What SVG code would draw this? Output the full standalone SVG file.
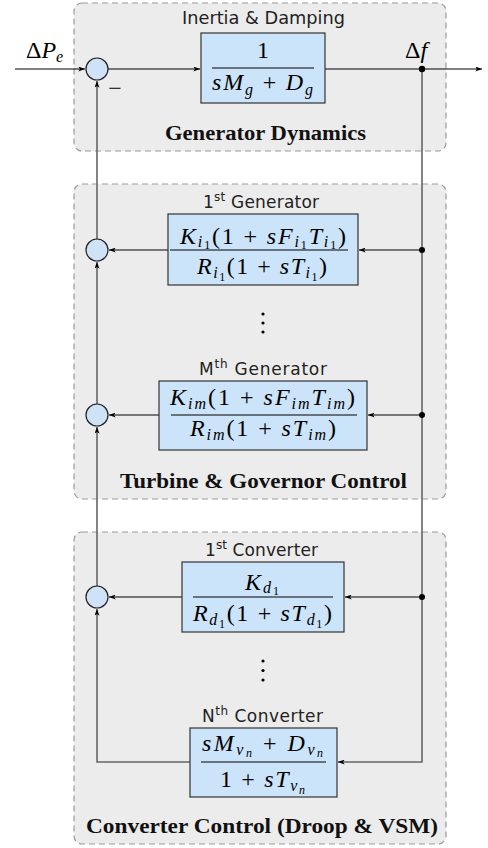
<svg xmlns="http://www.w3.org/2000/svg" width="488" height="848" viewBox="0 0 488 848">
<style>
.cont{fill:#ececec;stroke:#9a9a9a;stroke-width:1.2;stroke-dasharray:6,4}
.blk{fill:#cce4f9;stroke:#333;stroke-width:1.2}
.sum{fill:#cfe3f8;stroke:#222;stroke-width:1.2}
.frac{stroke:#000;stroke-width:1}
.w{stroke:#000;stroke-width:1;fill:none}
.g{stroke:#666;stroke-width:1.6;fill:none}
.lab{font-family:"DejaVu Sans",sans-serif;font-size:17px;fill:#222}
.sup{font-size:12px}
.bold{font-family:"Liberation Serif",serif;font-weight:bold;font-size:20px;fill:#111}
.m{font-family:"Liberation Serif",serif;font-size:24px;fill:#000}
.i{font-style:italic}
.s{font-size:16px}
.ss{font-size:12px}
</style>
<defs>
<marker id="arr" viewBox="0 0 8 6" refX="8" refY="3" markerWidth="7" markerHeight="5" markerUnits="userSpaceOnUse" orient="auto">
<path d="M0,0 L8,3 L0,6 L2,3 Z" fill="#000"/>
</marker>
</defs>

<g id="containers">
<rect class="cont" x="74" y="3" width="372" height="148" rx="8"/>
<rect class="cont" x="74" y="184" width="372" height="315" rx="8"/>
<rect class="cont" x="74" y="532" width="372" height="312" rx="8"/>
</g>

<g id="connectors">
<path class="g" d="M422,69 V762 H338" marker-end="url(#arr)"/>
<path class="g" d="M190,762 H97 V609" marker-end="url(#arr)"/>
<path class="g" d="M97,586 V427" marker-end="url(#arr)"/>
<path class="g" d="M97,404 V262" marker-end="url(#arr)"/>
<path class="g" d="M97,239 V81" marker-end="url(#arr)"/>
<path class="w" d="M15,69 H85" marker-end="url(#arr)"/>
<path class="w" d="M108,69 H200" marker-end="url(#arr)"/>
<path class="w" d="M325,69 H482" marker-end="url(#arr)"/>
<path class="w" d="M422,250 H359" marker-end="url(#arr)"/>
<path class="w" d="M168,250 H109" marker-end="url(#arr)"/>
<path class="w" d="M422,415 H368" marker-end="url(#arr)"/>
<path class="w" d="M159,415 H109" marker-end="url(#arr)"/>
<path class="w" d="M422,597 H345" marker-end="url(#arr)"/>
<path class="w" d="M182,597 H109" marker-end="url(#arr)"/>
<circle cx="422" cy="69" r="3.2" fill="#000"/>
<circle cx="422" cy="250" r="3" fill="#000"/>
<circle cx="422" cy="415" r="3" fill="#000"/>
<circle cx="422" cy="597" r="3" fill="#000"/>
</g>

<g id="labels">
<text class="m" x="26" y="58">Δ<tspan class="i">P</tspan><tspan class="i s" dy="4">e</tspan></text>
<text class="m" x="405" y="57.5">Δ<tspan class="i">f</tspan></text>
<text class="m" x="115" y="96" text-anchor="middle">−</text>
<text class="lab" x="263.5" y="24" text-anchor="middle" textLength="163" lengthAdjust="spacingAndGlyphs">Inertia &amp; Damping</text>
<text class="bold" x="265.5" y="140" text-anchor="middle" textLength="201" lengthAdjust="spacingAndGlyphs">Generator Dynamics</text>
<text class="bold" x="263.5" y="488" text-anchor="middle" textLength="287" lengthAdjust="spacingAndGlyphs">Turbine &amp; Governor Control</text>
<text class="bold" x="262" y="833" text-anchor="middle" textLength="352" lengthAdjust="spacingAndGlyphs">Converter Control (Droop &amp; VSM)</text>
</g>

<g id="sum1"><circle class="sum" cx="97" cy="69" r="11"/></g>
<g id="sum2"><circle class="sum" cx="97" cy="250" r="11"/></g>
<g id="sum3"><circle class="sum" cx="97" cy="415" r="11"/></g>
<g id="sum4"><circle class="sum" cx="97" cy="597" r="11"/></g>

<g id="block-generator">
<rect class="blk" x="201" y="33" width="124" height="70"/>
<line class="frac" x1="212" y1="68" x2="314" y2="68"/>
<text class="m" x="263" y="58" text-anchor="middle">1</text>
<text class="m" x="262.5" y="90" text-anchor="middle" textLength="101"><tspan class="i">sM</tspan><tspan class="i s" dy="5">g</tspan><tspan dy="-5"> + </tspan><tspan class="i">D</tspan><tspan class="i s" dy="5">g</tspan></text>
</g>

<g id="block-gen1">
<text class="lab" x="261" y="208" text-anchor="middle" textLength="116">1<tspan class="sup" dy="-7">st</tspan><tspan dy="7"> Generator</tspan></text>
<rect class="blk" x="168" y="214" width="190" height="71"/>
<line class="frac" x1="170" y1="250" x2="348" y2="250"/>
<text class="m" x="263" y="243.5" text-anchor="middle" textLength="166"><tspan class="i">K</tspan><tspan class="i s" dy="3">i</tspan><tspan class="ss" dy="2">1</tspan><tspan dy="-5">(1 + </tspan><tspan class="i">sF</tspan><tspan class="i s" dy="3">i</tspan><tspan class="ss" dy="2">1</tspan><tspan class="i" dy="-5">T</tspan><tspan class="i s" dy="3">i</tspan><tspan class="ss" dy="2">1</tspan><tspan dy="-5">)</tspan></text>
<text class="m" x="262" y="274" text-anchor="middle" textLength="130"><tspan class="i">R</tspan><tspan class="i s" dy="4">i</tspan><tspan class="ss" dy="3">1</tspan><tspan dy="-7">(1 + </tspan><tspan class="i">sT</tspan><tspan class="i s" dy="4">i</tspan><tspan class="ss" dy="3">1</tspan><tspan dy="-7">)</tspan></text>
</g>

<g id="dots-gen">
<circle cx="263" cy="314" r="1.6" fill="#000"/>
<circle cx="263" cy="323" r="1.6" fill="#000"/>
<circle cx="263" cy="332" r="1.6" fill="#000"/>
</g>

<g id="block-genM">
<text class="lab" x="263" y="375" text-anchor="middle" textLength="128">M<tspan class="sup" dy="-7">th</tspan><tspan dy="7"> Generator</tspan></text>
<rect class="blk" x="159" y="381" width="208" height="69"/>
<line class="frac" x1="171" y1="415" x2="357" y2="415"/>
<text class="m" x="262.5" y="405" text-anchor="middle" textLength="185"><tspan class="i">K</tspan><tspan class="i s" dy="4">im</tspan><tspan dy="-4">(1 + </tspan><tspan class="i">sF</tspan><tspan class="i s" dy="4">im</tspan><tspan class="i" dy="-4">T</tspan><tspan class="i s" dy="4">im</tspan><tspan dy="-4">)</tspan></text>
<text class="m" x="263" y="436" text-anchor="middle" textLength="146"><tspan class="i">R</tspan><tspan class="i s" dy="4">im</tspan><tspan dy="-4">(1 + </tspan><tspan class="i">sT</tspan><tspan class="i s" dy="4">im</tspan><tspan dy="-4">)</tspan></text>
</g>

<g id="block-conv1">
<text class="lab" x="261.5" y="556" text-anchor="middle" textLength="113">1<tspan class="sup" dy="-7">st</tspan><tspan dy="7"> Converter</tspan></text>
<rect class="blk" x="182" y="562" width="162" height="70"/>
<line class="frac" x1="193" y1="597" x2="333" y2="597"/>
<text class="m" x="262" y="590" text-anchor="middle" textLength="34"><tspan class="i">K</tspan><tspan class="i s" dy="3">d</tspan><tspan class="ss" dy="2">1</tspan></text>
<text class="m" x="262.5" y="621" text-anchor="middle" textLength="139"><tspan class="i">R</tspan><tspan class="i s" dy="4">d</tspan><tspan class="ss" dy="3">1</tspan><tspan dy="-7">(1 + </tspan><tspan class="i">sT</tspan><tspan class="i s" dy="4">d</tspan><tspan class="ss" dy="3">1</tspan><tspan dy="-7">)</tspan></text>
</g>

<g id="dots-conv">
<circle cx="263" cy="661" r="1.6" fill="#000"/>
<circle cx="263" cy="670.5" r="1.6" fill="#000"/>
<circle cx="263" cy="680" r="1.6" fill="#000"/>
</g>

<g id="block-convN">
<text class="lab" x="262.5" y="722" text-anchor="middle" textLength="121">N<tspan class="sup" dy="-7">th</tspan><tspan dy="7"> Converter</tspan></text>
<rect class="blk" x="190" y="728" width="147" height="69"/>
<line class="frac" x1="201" y1="762" x2="326" y2="762"/>
<text class="m" x="262.5" y="751" text-anchor="middle" textLength="121"><tspan class="i">sM</tspan><tspan class="i s" dy="4">v</tspan><tspan class="i ss" dy="2">n</tspan><tspan dy="-6"> + </tspan><tspan class="i">D</tspan><tspan class="i s" dy="4">v</tspan><tspan class="i ss" dy="2">n</tspan></text>
<text class="m" x="262.5" y="786.5" text-anchor="middle" textLength="85">1 + <tspan class="i">sT</tspan><tspan class="i s" dy="4">v</tspan><tspan class="i ss" dy="3">n</tspan></text>
</g>
</svg>
